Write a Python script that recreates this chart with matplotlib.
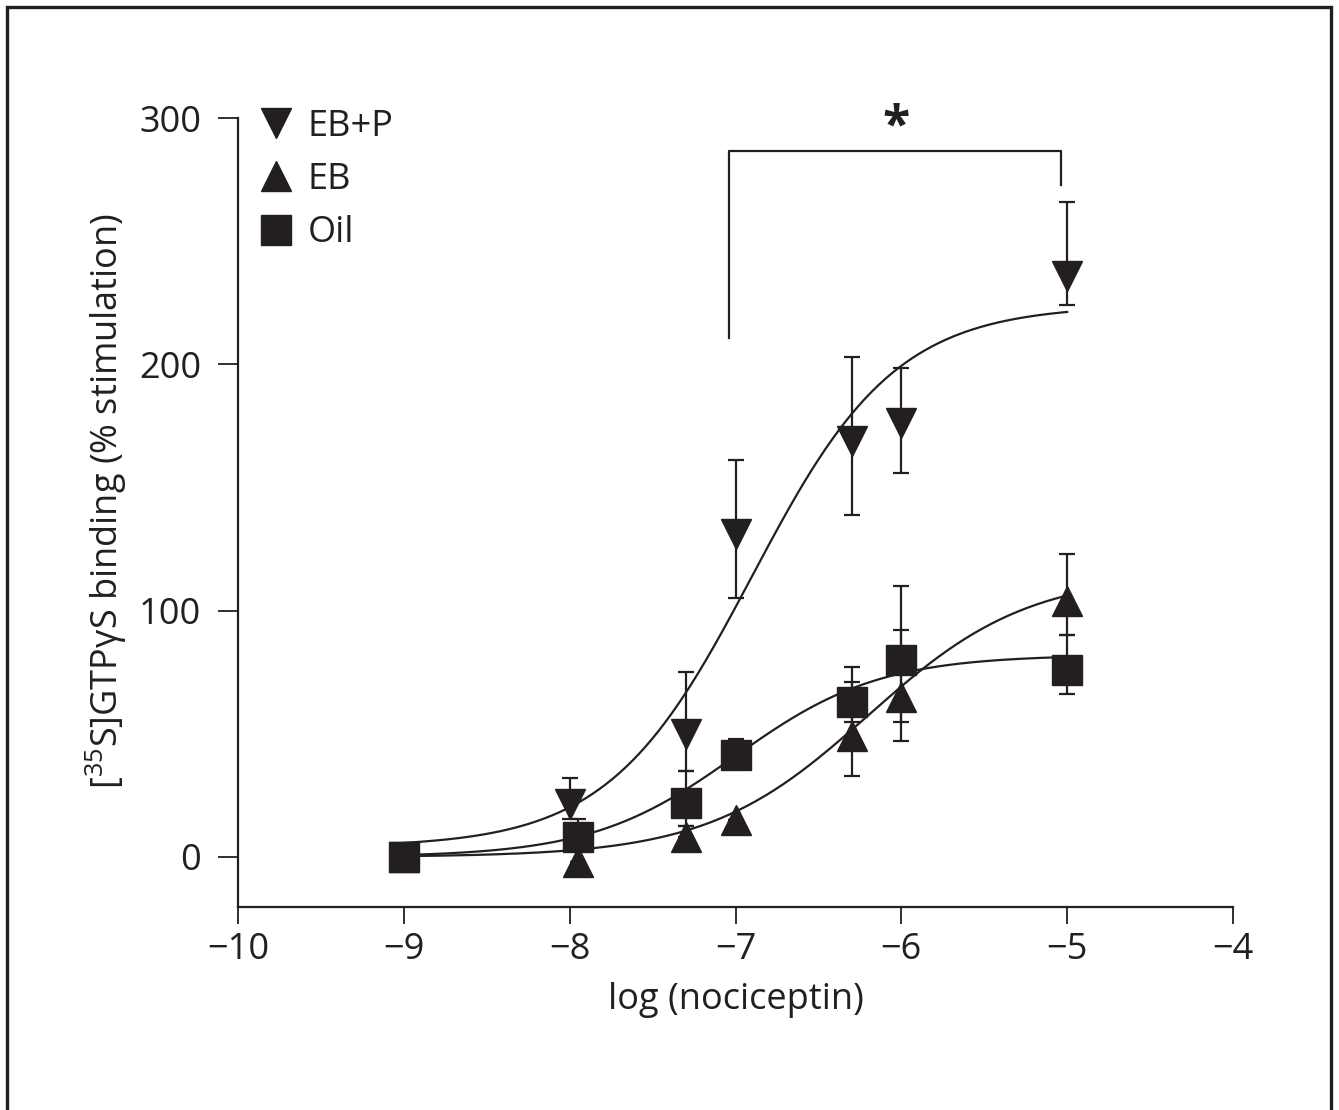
import numpy as np
import matplotlib
matplotlib.use("Agg")
import matplotlib.pyplot as plt
from matplotlib.lines import Line2D
from matplotlib.patches import Rectangle

# ---------------- data ----------------
x_ebp = [-9, -8, -7.3, -7, -6.3, -6, -5]
ebp_mean = [0, 21.5, 50, 131, 169, 176, 236]
ebp_err_lo = [0, 6, 15, 26, 30, 20, 12]
ebp_err_hi = [0, 10.5, 25, 30, 34, 22.5, 30]

x_eb = [-9, -7.95, -7.3, -7, -6.3, -6, -5]
eb_mean = [0, -2, 8, 15, 49, 65, 104]
eb_err_lo = [0, 0, 0, 0, 16, 18, 14]
eb_err_hi = [0, 0, 4.5, 0, 22, 27, 19]

x_oil = [-9, -7.95, -7.3, -7, -6.3, -6, -5]
oil_mean = [0, 8, 22, 41.5, 63, 80, 76]
oil_err_lo = [0, 0, 9.5, 0, 8, 25, 10]
oil_err_hi = [0, 7.5, 13, 6.5, 14, 30, 14]

# fitted sigmoid (Hill) parameters: bottom, top, logEC50, hill slope
fit_ebp = dict(bottom=4, top=224, logec50=-6.9, hill=1.0)
fit_eb = dict(bottom=0, top=115, logec50=-6.2, hill=0.9)
fit_oil = dict(bottom=0, top=82, logec50=-7.0, hill=1.0)
fit_range = (-9, -5)

labels = ["EB+P", "EB", "Oil"]
x_ticks = [-10, -9, -8, -7, -6, -5, -4]
y_ticks = [0, 100, 200, 300]

# significance bracket
bracket_x = (-7.04, -5.04)
bracket_y = (210.5, 286.5, 273)

# ---------------- style ----------------
INK = "#231f20"
FONT = ["Open Sans", "DejaVu Sans"]
plt.rcParams["font.family"] = FONT
plt.rcParams["mathtext.fontset"] = "custom"
plt.rcParams["mathtext.rm"] = "Open Sans"
plt.rcParams["mathtext.it"] = "Open Sans:italic"
FS = 26

fig = plt.figure(figsize=(13.39, 11.10), dpi=100)
ax = fig.add_axes([238 / 1339, 1 - 907 / 1110, (1233 - 238) / 1339, (907 - 118) / 1110])

# outer frame
fig.patches.append(Rectangle((7 / 1339, -0.05), (1331 - 7) / 1339, 1.05 - 7 / 1110,
                             transform=fig.transFigure, fill=False, edgecolor=INK,
                             linewidth=2.4, zorder=0))


def hill(x, bottom, top, logec50, hill):
    x = np.asarray(x)
    return bottom + (top - bottom) / (1 + 10 ** ((logec50 - x) * hill))


xs = np.linspace(fit_range[0], fit_range[1], 300)
for p in (fit_ebp, fit_eb, fit_oil):
    ax.plot(xs, hill(xs, **p), color=INK, lw=1.6, zorder=2)

MS = 22
series = [
    (x_ebp, ebp_mean, ebp_err_lo, ebp_err_hi, "v"),
    (x_eb, eb_mean, eb_err_lo, eb_err_hi, "^"),
    (x_oil, oil_mean, oil_err_lo, oil_err_hi, "s"),
]
handles = []
for i, (xv, m, lo, hi, mk) in enumerate(series):
    ax.errorbar(xv, m, yerr=[lo, hi], fmt=mk, color=INK, ms=MS, mec=INK, mfc=INK,
                elinewidth=1.6, capsize=5.5, capthick=1.6, zorder=3 + i, clip_on=False)
    handles.append(Line2D([], [], marker=mk, ls="none", color=INK, ms=MS))

# bracket + asterisk
ax.plot([bracket_x[0], bracket_x[0], bracket_x[1], bracket_x[1]],
        [bracket_y[0], bracket_y[1], bracket_y[1], bracket_y[2]],
        color=INK, lw=1.6, clip_on=False, zorder=2)
ax.text((bracket_x[0] + bracket_x[1]) / 2 + 0.01, 296, "*", ha="center", va="center",
        fontsize=36, fontweight="bold", color=INK, clip_on=False)

# axes
ax.set_xlim(-10, -4)
ax.set_ylim(-20.3, 300)
ax.set_xticks(x_ticks)
ax.set_xticklabels([f"\u2212{abs(t)}" for t in x_ticks])
ax.set_yticks(y_ticks)
ax.set_yticklabels([str(t) for t in y_ticks])
for s in ("top", "right"):
    ax.spines[s].set_visible(False)
for s in ("left", "bottom"):
    ax.spines[s].set_linewidth(1.6)
    ax.spines[s].set_color(INK)
ax.tick_params(axis="y", direction="out", length=14.5, width=1.3, pad=12, labelsize=FS, colors=INK)
ax.tick_params(axis="x", direction="out", length=12, width=1.3, pad=6, labelsize=FS, colors=INK)

ax.set_xlabel("log (nociceptin)", fontsize=FS, color=INK, labelpad=10)
ax.set_ylabel("[$\\mathregular{^{35}}$S]GTP\u03b3S binding (% stimulation)", fontsize=FS,
              color=INK)
ax.yaxis.set_label_coords(-0.11, 0.515)

leg = ax.legend(handles, labels, loc="upper left", bbox_to_anchor=(0.004, 1.03),
                frameon=False, fontsize=FS, handlelength=1.1, handletextpad=0.32,
                labelspacing=0.48, borderaxespad=0)
for t in leg.get_texts():
    t.set_color(INK)

fig.savefig("out.png", dpi=100, facecolor="white")
